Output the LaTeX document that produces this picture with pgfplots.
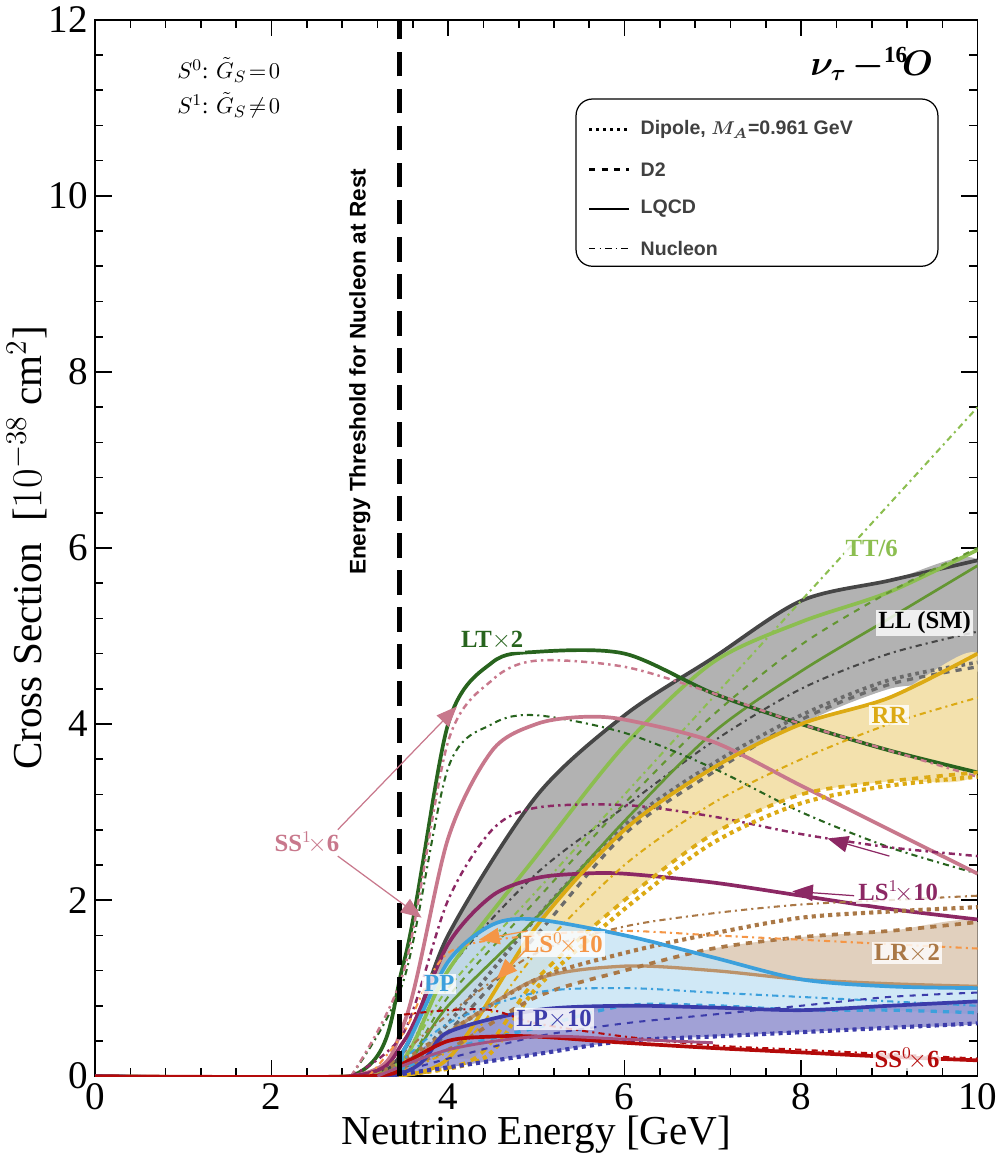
\documentclass[border=0pt]{standalone}
\usepackage{pgfplots}
\pgfplotsset{compat=1.18}
\usepackage{amsmath,bm}
\usepackage{fontspec}
\setmainfont{Liberation Serif}
\newfontfamily\lsans{Liberation Sans}
\usetikzlibrary{arrows.meta}
\definecolor{cTT}{RGB}{140,190,80}
\definecolor{cTTd}{RGB}{100,150,50}
\definecolor{cLT}{RGB}{40,100,30}
\definecolor{cSS}{RGB}{200,120,140}
\definecolor{cLS}{RGB}{140,40,100}
\definecolor{cRR}{RGB}{220,170,20}
\definecolor{cPP}{RGB}{60,160,220}
\definecolor{cLR}{RGB}{170,120,70}
\definecolor{cLS0}{RGB}{245,150,70}
\definecolor{cLP}{RGB}{60,60,170}
\definecolor{cSS0}{RGB}{180,10,10}
\definecolor{cLL}{RGB}{70,70,70}
\begin{document}
\begin{tikzpicture}
\begin{axis}[
  scale only axis, width=429pt, height=513.5pt,
  xmin=0, xmax=10, ymin=0, ymax=12,
  xtick={0,2,...,10}, ytick={0,2,...,12},
  minor x tick num=4, minor y tick num=4,
  tick align=inside, major tick length=8pt, minor tick length=4pt,
  tick style={black, line width=0.8pt},
  axis line style={line width=0.8pt},
  ticklabel style={font=\fontsize{19}{19}\selectfont},
  /pgf/number format/assume math mode=true,
  xlabel={Neutrino Energy [GeV]}, ylabel={Cross Section\ \ [$10^{-38}$ cm$^2$]},
  label style={font=\fontsize{20}{20}\selectfont},
  xlabel style={yshift=4pt}, ylabel style={yshift=-6pt},
  clip=true,
]
% LL band
\addplot[fill=gray!60, draw=none] coordinates {(3,0)(3.5,0.3)(4,1.6)(5,3.18)(6,4.1)(7,4.75)(8,5.4)(9,5.63)(10,5.86)(10,4.6)(9,4.4)(8,4.0)(7,3.4)(6,2.7)(5,1.5)(4,0.4)(3.5,0.05)} -- cycle;
% RR band
\addplot[fill=cRR!35, draw=none] coordinates {(4,0.2)(5,1.7)(6,2.8)(7,3.5)(8,4.0)(9,4.3)(10,4.8)(10,3.45)(9,3.35)(8,3.2)(7,2.75)(6,2.0)(5,1.1)(4.3,0.2)} -- cycle;
% LR band
\addplot[fill=cLR!35, draw=none] coordinates {(4,0.5)(5,1.1)(6,1.25)(7,1.2)(8,1.1)(9,1.05)(10,1.02)(10,1.75)(9,1.65)(8,1.58)(7,1.45)(6,1.2)(5,0.9)(4,0.3)} -- cycle;
% PP band
\addplot[fill=cPP!30, draw=none, opacity=0.8] coordinates {(3.2,0)(3.5,0.3)(4,1.3)(4.5,1.72)(5,1.78)(6,1.6)(7,1.35)(8,1.1)(9,1.02)(10,1.0)(10,0.72)(9,0.75)(8,0.75)(7,0.8)(6,0.8)(5,0.55)(4,0.3)(3.5,0.05)} -- cycle;
% LP band
\addplot[fill=cLP!60, draw=none, opacity=0.8] coordinates {(3.3,0)(4,0.5)(5,0.75)(6,0.8)(7,0.78)(8,0.75)(9,0.8)(10,0.85)(10,0.6)(9,0.55)(8,0.5)(7,0.45)(6,0.4)(5,0.25)(4,0.1)} -- cycle;

\pgfplotsset{every axis plot/.append style={smooth, tension=0.5}}
% LL lines
\addplot[cLL, line width=1.8pt] coordinates {(0,0)(2.9,0)(3.5,0.3)(4,1.6)(5,3.18)(6,4.1)(7,4.75)(8,5.4)(9,5.63)(10,5.86)};
\addplot[cLL!80, line width=1.6pt, dashed] coordinates {(3,0)(3.5,0.1)(4,0.5)(5,1.6)(6,2.75)(7,3.45)(8,4.05)(9,4.45)(10,4.65)};
\addplot[cLL!80, line width=1.8pt, dotted] coordinates {(3,0)(3.5,0.1)(4,0.6)(5,1.8)(6,2.85)(7,3.55)(8,4.1)(9,4.5)(10,4.7)};
\addplot[cLL, line width=1pt, dash dot] coordinates {(3,0)(3.5,0.2)(4,1.2)(5,2.3)(6,3.06)(7,3.8)(8,4.4)(9,4.8)(10,5.05)};
% TT
\addplot[cTT, line width=1.8pt] coordinates {(0,0)(2.9,0)(3.5,0.2)(4,1.2)(5,2.5)(6,3.76)(7,4.7)(8,5.16)(9,5.5)(10,5.98)};
\addplot[cTTd, line width=1.3pt] coordinates {(3,0)(3.5,0.1)(4,0.8)(5,1.8)(6,2.9)(7,3.9)(8,4.6)(9,5.2)(10,5.8)};
\addplot[cTT, line width=1pt, dash dot] coordinates {(3,0)(3.5,0.2)(4,1.0)(5,2.1)(6,3.2)(7,4.3)(8,5.4)(9,6.5)(10,7.6)};
\addplot[cTTd, line width=1pt, dashed] coordinates {(3,0)(3.5,0.1)(4,0.9)(5,2.0)(6,3.1)(7,4.1)(8,4.9)(9,5.5)(10,6.0)};
% LT
\addplot[cLT, line width=1.8pt] coordinates {(0,0)(2.9,0)(3.5,1.3)(4,4.0)(4.5,4.7)(5,4.82)(6,4.8)(7,4.35)(8,4.0)(9,3.7)(10,3.45)};
\addplot[cLT, line width=1pt, dash dot] coordinates {(2.9,0)(3.5,1.1)(4,3.5)(4.5,4.0)(5,4.1)(6,3.9)(7,3.5)(8,3.0)(9,2.6)(10,2.3)};
% SS1
\addplot[cSS, line width=1.8pt] coordinates {(0,0)(2.9,0)(3.5,0.6)(4,2.7)(4.5,3.7)(5,4.0)(5.5,4.08)(6,4.05)(7,3.8)(8,3.3)(9,2.8)(10,2.3)};
\addplot[cSS, line width=1.2pt, dash dot] coordinates {(2.9,0)(3.5,1.2)(4,3.8)(4.5,4.5)(5,4.72)(6,4.65)(7,4.35)(8,4.0)(9,3.7)(10,3.4)};
% LS1
\addplot[cLS, line width=1.8pt] coordinates {(0,0)(2.9,0)(3.5,0.4)(4,1.5)(4.5,2.05)(5,2.25)(5.5,2.3)(6,2.3)(7,2.2)(8,2.05)(9,1.9)(10,1.78)};
\addplot[cLS, line width=1.2pt, dash dot] coordinates {(2.9,0)(3.5,0.5)(4,2.0)(4.5,2.8)(5,3.05)(6,3.08)(7,2.95)(8,2.75)(9,2.6)(10,2.5)};
% RR lines
\addplot[cRR, line width=1.8pt] coordinates {(3.2,0)(4,0.2)(5,1.7)(6,2.8)(7,3.5)(8,4.0)(9,4.3)(10,4.8)};
\addplot[cRR, line width=1.8pt, dashed] coordinates {(3.3,0)(4.3,0.2)(5,1.1)(6,2.0)(7,2.75)(8,3.2)(9,3.35)(10,3.45)};
\addplot[cRR, line width=2pt, dotted] coordinates {(3.3,0)(4.4,0.2)(5,1.0)(6,1.9)(7,2.65)(8,3.1)(9,3.3)(10,3.4)};
\addplot[cRR, line width=1pt, dash dot] coordinates {(3.3,0)(4.2,0.4)(5,1.4)(6,2.4)(7,3.1)(8,3.6)(9,4.0)(10,4.3)};
% LR lines
\addplot[cLR!80, line width=1.6pt] coordinates {(0,0)(3.1,0)(4,0.5)(5,1.1)(6,1.25)(7,1.2)(8,1.1)(9,1.05)(10,1.02)};
\addplot[cLR, line width=1.8pt, dashed] coordinates {(3.2,0)(4,0.3)(5,0.9)(6,1.2)(7,1.45)(8,1.58)(9,1.65)(10,1.75)};
\addplot[cLR, line width=2pt, dotted] coordinates {(3.2,0)(4,0.5)(5,1.1)(6,1.4)(7,1.62)(8,1.8)(9,1.87)(10,1.92)};
\addplot[cLR, line width=1pt, dash dot] coordinates {(3.2,0)(4,0.7)(5,1.4)(6,1.7)(7,1.85)(8,1.95)(9,2.0)(10,2.05)};
% LS0
\addplot[cLS0, line width=1pt, dash dot] coordinates {(3.1,0)(3.5,0.5)(4,1.4)(5,1.6)(6,1.65)(7,1.6)(8,1.55)(9,1.5)(10,1.45)};
% PP lines
\addplot[cPP, line width=1.8pt] coordinates {(0,0)(3.2,0)(3.5,0.3)(4,1.3)(4.5,1.72)(5,1.78)(6,1.6)(7,1.35)(8,1.1)(9,1.02)(10,1.0)};
\addplot[cPP, line width=1.6pt, dashed] coordinates {(3.3,0)(4,0.3)(5,0.55)(6,0.8)(7,0.8)(8,0.75)(9,0.75)(10,0.72)};
\addplot[cPP, line width=1pt, dash dot] coordinates {(3.3,0)(4,0.6)(5,0.95)(6,1.0)(7,0.95)(8,0.9)(9,0.85)(10,0.8)};
% LP lines
\addplot[cLP, line width=1.8pt] coordinates {(0,0)(3.3,0)(4,0.5)(5,0.75)(6,0.8)(7,0.78)(8,0.75)(9,0.8)(10,0.85)};
\addplot[cLP, line width=2pt, dotted] coordinates {(3.3,0)(4,0.1)(5,0.25)(6,0.4)(7,0.45)(8,0.5)(9,0.55)(10,0.6)};
\addplot[cLP, line width=1pt, dashed] coordinates {(3.3,0)(4,0.2)(5,0.45)(6,0.6)(7,0.7)(8,0.8)(9,0.9)(10,0.95)};
% SS0
\addplot[cSS0, line width=1.8pt] coordinates {(0,0)(3.1,0)(3.5,0.15)(4,0.4)(4.5,0.45)(5,0.45)(6,0.38)(7,0.32)(8,0.27)(9,0.22)(10,0.18)};
\addplot[cSS0, line width=1pt, dash dot] coordinates {(3.5,0.7)(4,0.75)(4.5,0.75)(5,0.6)(6,0.45)(7,0.35)(8,0.3)(9,0.25)(10,0.2)};
\addplot[cLS!80, line width=1.4pt] coordinates {(3.2,0)(4,0.3)(5,0.45)(6,0.42)(7,0.38)};

% threshold
\addplot[black, line width=2.2pt, dash pattern=on 12pt off 6pt, sharp plot] coordinates {(3.45,0)(3.45,12)};

\node[rotate=90, font=\lsans\bfseries\fontsize{11}{11}\selectfont] at (axis cs:3.0,8.0) {Energy Threshold for Nucleon at Rest};
\node[anchor=north west, align=left, font=\fontsize{11}{15}\selectfont] at (axis cs:0.85,11.65) {$S^0$: $\tilde G_S\!=\!0$\\[2pt] $S^1$: $\tilde G_S\!\neq\!0$};
\node[font=\bfseries\fontsize{16}{16}\selectfont] at (axis cs:8.8,11.5) {$\bm{\nu_\tau}$\,$\bm{-}^{\mathbf{16}}\!\bm{O}$};
% legend
\draw[rounded corners=8pt, line width=0.6pt] (axis cs:5.45,9.2) rectangle (axis cs:9.55,11.1);
\begin{scope}[font=\lsans\bfseries\fontsize{9.5}{9.5}\selectfont, text=black!75]
\draw[line width=1.4pt, dotted] (axis cs:5.6,10.75)--(axis cs:6.05,10.75); \node[anchor=west] at (axis cs:6.1,10.75) {Dipole, $\bm{M_A}$=0.961 GeV};
\draw[line width=1.2pt, dashed] (axis cs:5.6,10.3)--(axis cs:6.05,10.3); \node[anchor=west] at (axis cs:6.1,10.3) {D2};
\draw[line width=1.2pt] (axis cs:5.6,9.85)--(axis cs:6.05,9.85); \node[anchor=west] at (axis cs:6.1,9.85) {LQCD};
\draw[line width=0.8pt, dash dot] (axis cs:5.6,9.4)--(axis cs:6.05,9.4); \node[anchor=west] at (axis cs:6.1,9.4) {Nucleon};
\end{scope}
% labels
\begin{scope}[font=\bfseries\fontsize{12}{12}\selectfont, inner sep=1pt]
\node[text=cTT, fill=white, fill opacity=0.8, text opacity=1] at (axis cs:8.8,6.0) {TT/6};
\node[text=black, fill=white, fill opacity=0.8, text opacity=1] at (axis cs:9.4,5.15) {LL (SM)};
\node[text=cLT, fill=white, fill opacity=0.8, text opacity=1] at (axis cs:4.5,4.95) {LT$\times$2};
\node[text=cRR, fill=white, fill opacity=0.8, text opacity=1] at (axis cs:9.0,4.1) {RR};
\node[text=cSS, fill=white, fill opacity=0.8, text opacity=1] at (axis cs:2.4,2.65) {SS$^1\!\times$6};
\node[text=cLS, fill=white, fill opacity=0.8, text opacity=1] at (axis cs:9.1,2.1) {LS$^1\!\times$10};
\node[text=cLS0, fill=white, fill opacity=0.8, text opacity=1] at (axis cs:5.3,1.5) {LS$^0\!\times$10};
\node[text=cLR, fill=white, fill opacity=0.8, text opacity=1] at (axis cs:9.2,1.4) {LR$\times$2};
\node[text=cPP, fill=white, fill opacity=0.8, text opacity=1] at (axis cs:3.9,1.05) {PP};
\node[text=cLP, fill=white, fill opacity=0.8, text opacity=1] at (axis cs:5.2,0.65) {LP$\times$10};
\node[text=cSS0, fill=white, fill opacity=0.8, text opacity=1] at (axis cs:9.2,0.2) {SS$^0\!\times$6};
\end{scope}
% arrows
\draw[cSS, line width=0.6pt, -{Triangle[length=10pt,width=8pt]}] (axis cs:2.75,2.8)--(axis cs:4.1,4.2);
\draw[cSS, line width=0.6pt, -{Triangle[length=10pt,width=8pt]}] (axis cs:2.75,2.5)--(axis cs:3.7,1.8);
\draw[cLS, line width=0.6pt, -{Triangle[length=10pt,width=8pt]}] (axis cs:9.0,2.5)--(axis cs:8.3,2.7);
\draw[cLS, line width=0.6pt, -{Triangle[length=10pt,width=8pt]}] (axis cs:8.6,2.05)--(axis cs:7.9,2.1);
\draw[cLS0, line width=0.6pt, -{Triangle[length=10pt,width=8pt]}] (axis cs:4.9,1.65)--(axis cs:4.35,1.55);
\draw[cLS0, line width=0.6pt, -{Triangle[length=10pt,width=8pt]}] (axis cs:4.9,1.45)--(axis cs:4.55,1.1);
\end{axis}
\end{tikzpicture}
\end{document}
